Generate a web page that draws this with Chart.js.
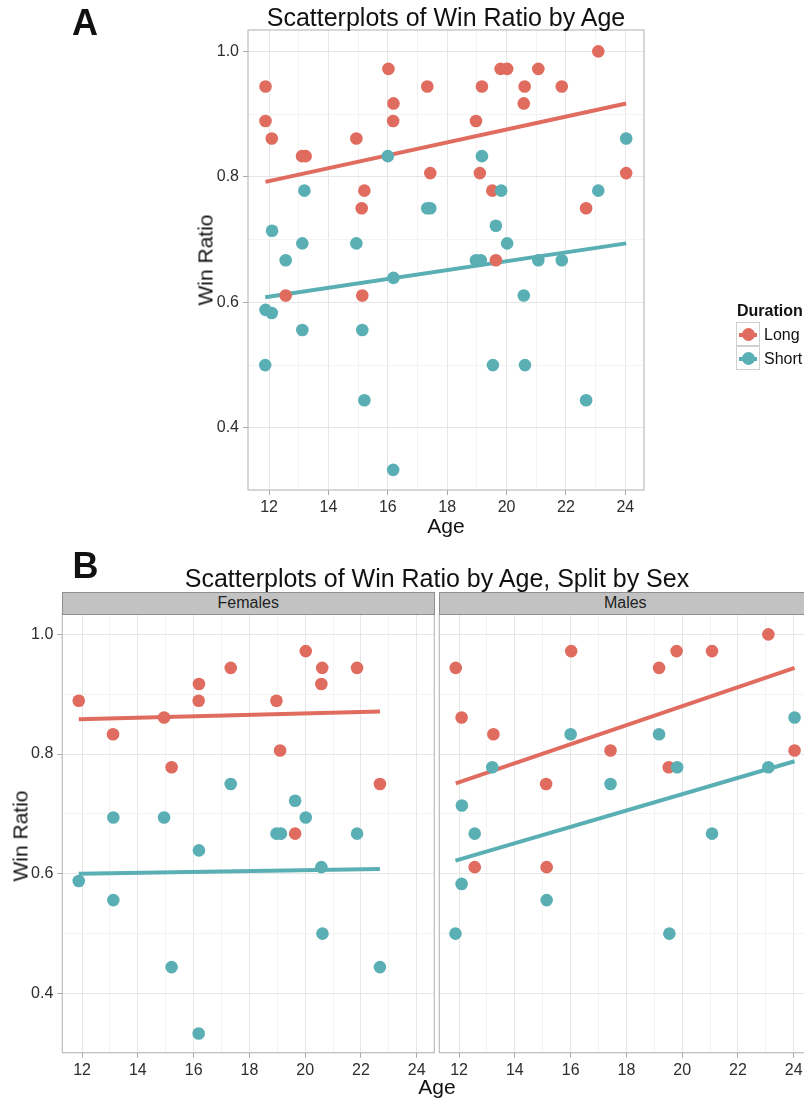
<!DOCTYPE html>
<html>
<head>
<meta charset="utf-8">
<script src="https://cdn.jsdelivr.net/npm/chart.js@4.4.1/dist/chart.umd.min.js"></script>
<style>
  html, body { margin: 0; padding: 0; background: #fff; overflow: hidden; }
  #page { position: relative; width: 804px; height: 1098px; overflow: hidden; font-family: 'Liberation Sans', Arial, sans-serif; color: #111; }
  canvas { position: absolute; }
  .txt { position: absolute; line-height: 1; white-space: nowrap; }
  .center { transform: translateX(-50%); }
  .rot { transform: translate(-50%, -50%) rotate(-90deg); }
  .strip { position: absolute; box-sizing: border-box; background: #c2c2c2; border: 1px solid #8f8f8f;
           display: flex; align-items: center; justify-content: center; font-size: 16px; color: #222; }
  .key { position: absolute; box-sizing: border-box; width: 24px; height: 24px; border: 1px solid #cfcfcf; }
  .key .ln { position: absolute; left: 2px; right: 2px; top: 9.5px; height: 4px; }
  .key .dot { position: absolute; left: 4.5px; top: 4.5px; width: 13px; height: 13px; border-radius: 50%; }
</style>
</head>
<body>
<div id="page">
  <canvas id="chartA" width="804" height="545" style="left:0;top:0"></canvas>
  <canvas id="chartF" width="470" height="518" style="left:0;top:580px"></canvas>
  <canvas id="chartM" width="410" height="518" style="left:420px;top:580px"></canvas>

  <div class="txt" style="left:72px;top:4.5px;font-size:36px;font-weight:bold">A</div>
  <div class="txt center" style="left:446px;top:5.3px;font-size:25px">Scatterplots of Win Ratio by Age</div>
  <div class="txt center" style="left:446px;top:514.9px;font-size:21px">Age</div>
  <div class="txt rot" style="left:205px;top:260px;font-size:21px">Win Ratio</div>

  <div class="txt" style="left:737px;top:302.5px;font-size:16px;font-weight:bold">Duration</div>
  <div class="key" style="left:736px;top:322px"><div class="ln" style="background:#e06b5f"></div><div class="dot" style="background:#e06b5f"></div></div>
  <div class="key" style="left:736px;top:346px"><div class="ln" style="background:#5aafb5"></div><div class="dot" style="background:#5aafb5"></div></div>
  <div class="txt" style="left:764px;top:326.5px;font-size:16px">Long</div>
  <div class="txt" style="left:764px;top:350.5px;font-size:16px">Short</div>

  <div class="txt" style="left:72.5px;top:547.8px;font-size:36px;font-weight:bold">B</div>
  <div class="txt center" style="left:437px;top:565.5px;font-size:25px">Scatterplots of Win Ratio by Age, Split by Sex</div>
  <div class="strip" style="left:62px;top:592px;width:372.5px;height:22.5px">Females</div>
  <div class="strip" style="left:439px;top:592px;width:372.5px;height:22.5px">Males</div>
  <div class="txt center" style="left:437px;top:1075.5px;font-size:21px">Age</div>
  <div class="txt rot" style="left:20px;top:836px;font-size:21px">Win Ratio</div>
</div>

<script>
// Ages and win ratios, split by sex and by duration (Long / Short)
const femaleLongAge = [11.88, 13.11, 14.94, 15.21, 16.18, 16.19, 17.33, 18.97, 19.10, 20.02, 20.61, 20.58, 21.86, 22.68, 19.64];
const femaleLongWin = [0.889, 0.833, 0.861, 0.778, 0.889, 0.917, 0.944, 0.889, 0.806, 0.972, 0.944, 0.917, 0.944, 0.750, 0.667];

const femaleShortAge = [17.33, 19.64, 13.12, 14.94, 20.02, 18.97, 19.13, 21.86, 16.19, 20.58, 11.88, 13.12, 20.62, 15.21, 22.68, 16.18];
const femaleShortWin = [0.750, 0.722, 0.694, 0.694, 0.694, 0.667, 0.667, 0.667, 0.639, 0.611, 0.588, 0.556, 0.500, 0.444, 0.444, 0.333];

const maleLongAge = [11.88, 12.09, 13.23, 16.02, 17.43, 15.12, 19.17, 19.80, 19.52, 21.07, 23.09, 24.03, 12.56, 15.14];
const maleLongWin = [0.944, 0.861, 0.833, 0.972, 0.806, 0.750, 0.944, 0.972, 0.778, 0.972, 1.000, 0.806, 0.611, 0.611];

const maleShortAge = [16.00, 19.17, 24.03, 13.19, 19.82, 23.09, 17.43, 12.10, 12.56, 21.07, 12.09, 15.14, 11.87, 19.54];
const maleShortWin = [0.833, 0.833, 0.861, 0.778, 0.778, 0.778, 0.750, 0.714, 0.667, 0.667, 0.583, 0.556, 0.500, 0.500];

// Fitted lines (win ratio at youngest and oldest age of each group)
const trendLongA = [0.792, 0.917];
const trendShortA = [0.608, 0.694];
const trendLongF = [0.858, 0.871];
const trendShortF = [0.600, 0.608];
const trendLongM = [0.751, 0.944];
const trendShortM = [0.622, 0.788];

// Axis ticks
const xMajor = [12, 14, 16, 18, 20, 22, 24];
const xMinor = [13, 15, 17, 19, 21, 23];
const yMajor = [0.4, 0.6, 0.8, 1.0];
const yMinor = [0.5, 0.7, 0.9];

const xRange = [11.29, 24.63];
const yRange = [0.301, 1.034];

const longColor = '#e06b5f';
const shortColor = '#5aafb5';

Chart.defaults.font.family = "'Liberation Sans', Arial, sans-serif";
Chart.defaults.color = '#333';

function toPoints(xs, ys) {
    return xs.map((x, i) => ({ x: x, y: ys[i] }));
}

// straight line over the age span of a group
function trendLine(xs, ends) {
    return [{ x: Math.min(...xs), y: ends[0] }, { x: Math.max(...xs), y: ends[1] }];
}

function tickList(major, minor) {
    return major.map(v => ({ value: v, minor: false }))
        .concat(minor.map(v => ({ value: v, minor: true })))
        .sort((a, b) => a.value - b.value);
}

const gridColor = ctx => (ctx.tick && ctx.tick.minor) ? '#f3f3f3' : '#e6e6e6';
const tickColor = ctx => (ctx.tick && ctx.tick.minor) ? 'rgba(0,0,0,0)' : '#a8a8a8';

// panel frame
const framePlugin = {
    id: 'frame',
    afterDraw(chart) {
        const a = chart.chartArea;
        const ctx = chart.ctx;
        ctx.save();
        ctx.strokeStyle = '#bdbdbd';
        ctx.lineWidth = 1.2;
        ctx.strokeRect(a.left, a.top, a.right - a.left, a.bottom - a.top);
        ctx.restore();
    }
};

function makeDatasets(longX, longY, shortX, shortY, longTrend, shortTrend) {
    return [
        { type: 'scatter', data: toPoints(shortX, shortY), backgroundColor: shortColor, pointRadius: 6.3, borderWidth: 0, order: 0 },
        { type: 'scatter', data: toPoints(longX, longY), backgroundColor: longColor, pointRadius: 6.3, borderWidth: 0, order: 1 },
        { type: 'line', data: trendLine(shortX, shortTrend), borderColor: shortColor, borderWidth: 4, pointRadius: 0, fill: false, order: 2 },
        { type: 'line', data: trendLine(longX, longTrend), borderColor: longColor, borderWidth: 4, pointRadius: 0, fill: false, order: 3 }
    ];
}

function makeChart(id, datasets, opts) {
    return new Chart(document.getElementById(id), {
        type: 'scatter',
        data: { datasets: datasets },
        options: {
            responsive: false,
            animation: false,
            layout: { padding: opts.padding },
            plugins: { legend: { display: false }, tooltip: { enabled: false } },
            scales: {
                x: {
                    type: 'linear',
                    min: xRange[0],
                    max: xRange[1],
                    afterBuildTicks: s => { s.ticks = tickList(xMajor, xMinor); },
                    afterFit: s => { s.height = opts.xHeight; },
                    border: { display: false },
                    grid: { color: gridColor, tickColor: tickColor, tickLength: 5, lineWidth: 1 },
                    ticks: {
                        autoSkip: false,
                        maxRotation: 0,
                        padding: 3,
                        color: '#2e2e2e',
                        font: { size: 16 },
                        callback: (v, i, ticks) => ticks[i].minor ? '' : String(v)
                    }
                },
                y: {
                    type: 'linear',
                    min: yRange[0],
                    max: yRange[1],
                    afterBuildTicks: s => { s.ticks = tickList(yMajor, yMinor); },
                    afterFit: s => { s.width = opts.yWidth; },
                    border: { display: false },
                    grid: { color: gridColor, tickColor: tickColor, tickLength: 5, drawTicks: opts.yLabels, lineWidth: 1 },
                    ticks: {
                        display: opts.yLabels,
                        autoSkip: false,
                        padding: 4,
                        color: '#2e2e2e',
                        font: { size: 16 },
                        callback: (v, i, ticks) => ticks[i].minor ? '' : v.toFixed(1)
                    }
                }
            }
        },
        plugins: [framePlugin]
    });
}

// Panel A: everybody together
const allLongAge = femaleLongAge.concat(maleLongAge);
const allLongWin = femaleLongWin.concat(maleLongWin);
const allShortAge = femaleShortAge.concat(maleShortAge);
const allShortWin = femaleShortWin.concat(maleShortWin);

makeChart('chartA', makeDatasets(allLongAge, allLongWin, allShortAge, allShortWin, trendLongA, trendShortA),
    { padding: { left: 188, right: 160, top: 30, bottom: 0 }, xHeight: 55, yWidth: 60, yLabels: true });

// Panel B: one facet per sex
makeChart('chartF', makeDatasets(femaleLongAge, femaleLongWin, femaleShortAge, femaleShortWin, trendLongF, trendShortF),
    { padding: { left: 2, right: 35.7, top: 34, bottom: 0 }, xHeight: 45.3, yWidth: 60.3, yLabels: true });

makeChart('chartM', makeDatasets(maleLongAge, maleLongWin, maleShortAge, maleShortWin, trendLongM, trendShortM),
    { padding: { left: 19.3, right: 18.7, top: 34, bottom: 0 }, xHeight: 45.3, yWidth: 0, yLabels: false });
</script>
</body>
</html>
